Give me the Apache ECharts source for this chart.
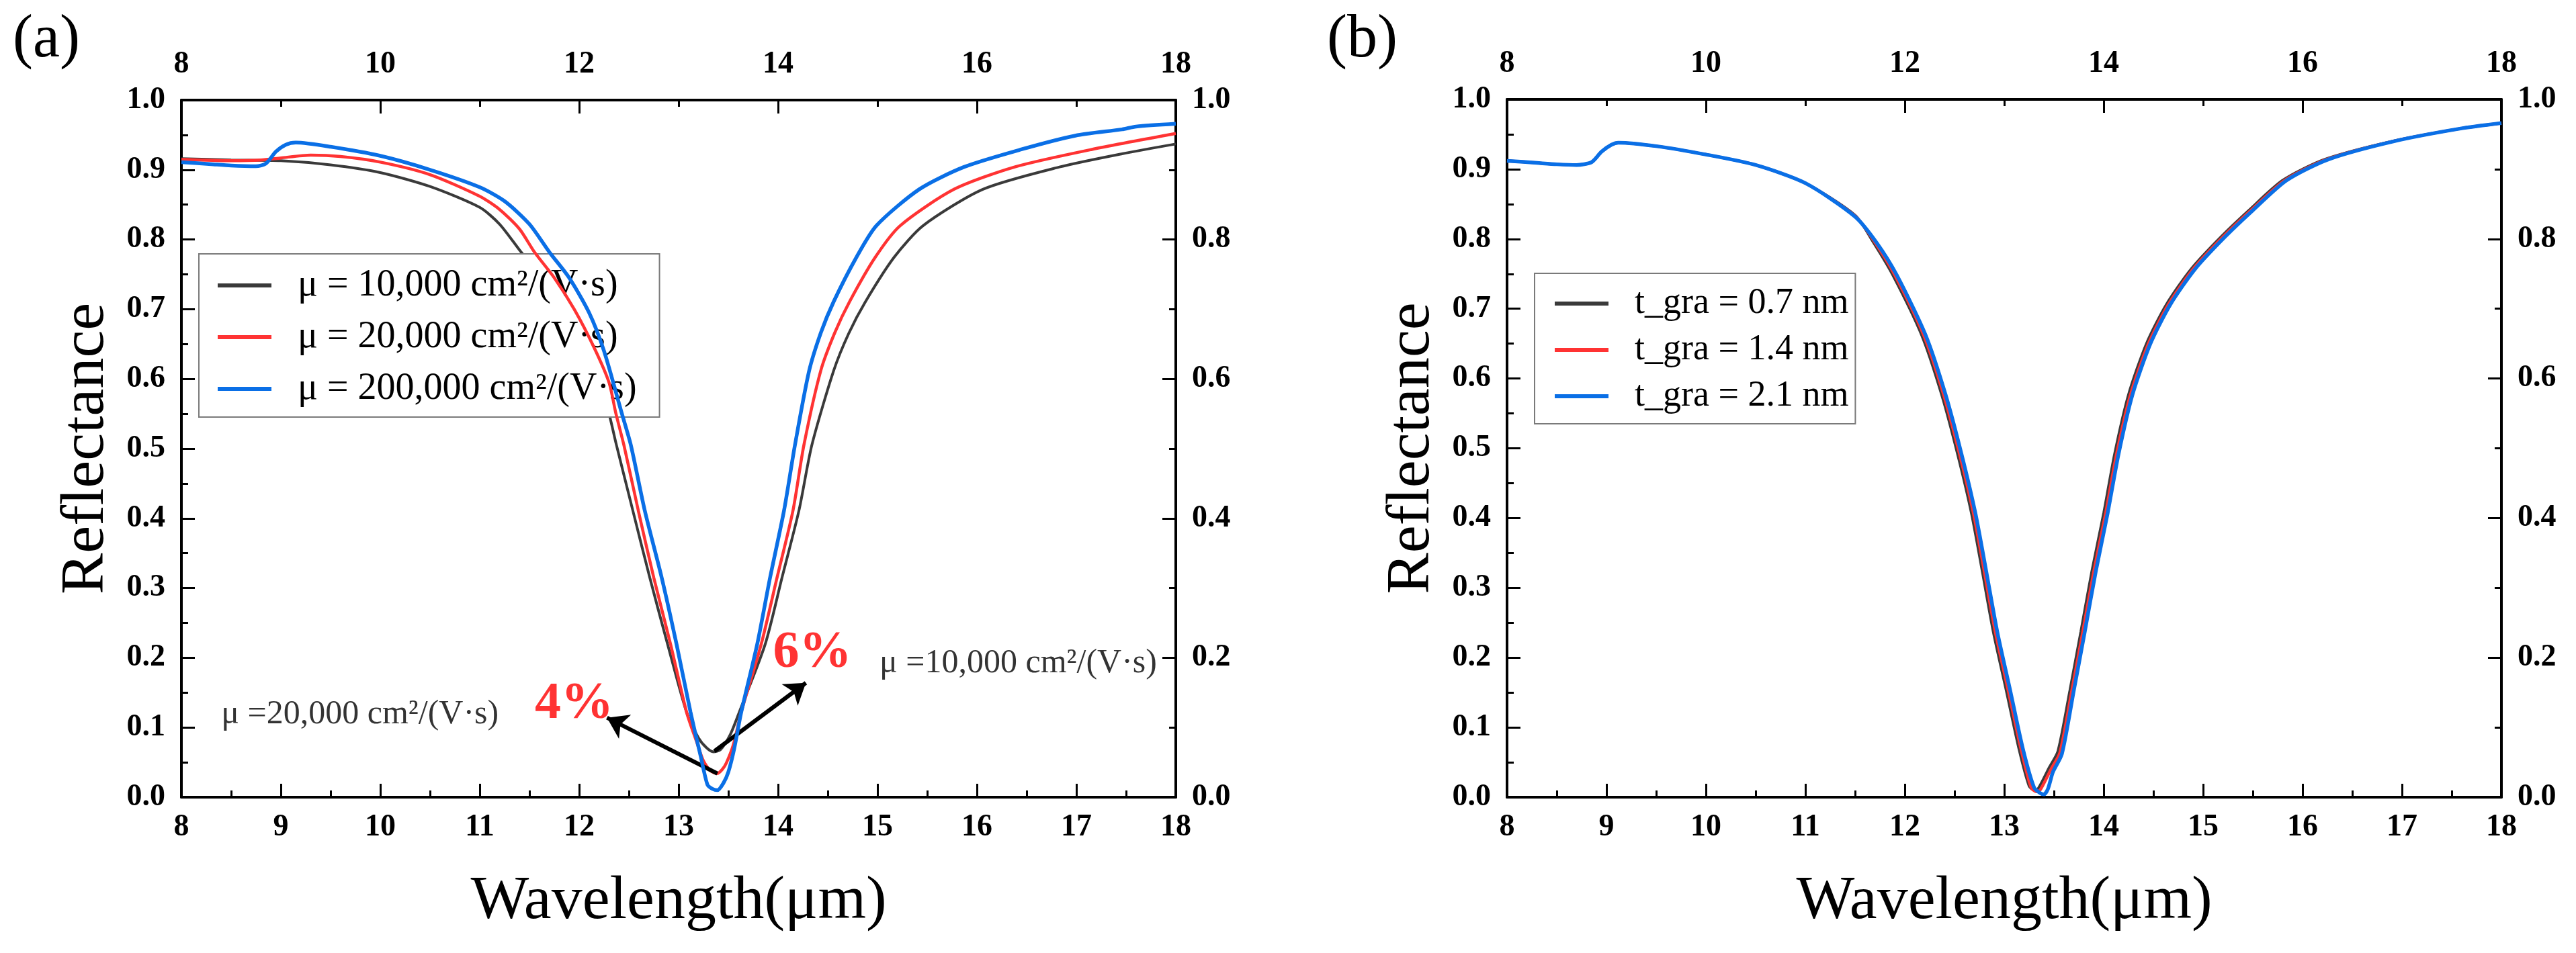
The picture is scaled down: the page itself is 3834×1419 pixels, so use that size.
<!DOCTYPE html>
<html>
<head>
<meta charset="utf-8">
<script src="https://cdn.jsdelivr.net/npm/echarts@6/dist/echarts.min.js"></script>
<style>
  html, body { margin: 0; padding: 0; background: #fff; }
  #chart { width: 3834px; height: 1419px; }
</style>
</head>
<body>
<div id="chart"></div>
<script>
// Panel (a): reflectance vs wavelength for three mobilities  [wavelength um, R]
const mu10k = [
    [8.0, 0.916], [8.5, 0.914], [9.0, 0.913], [9.5, 0.907], [10.0, 0.896], [10.5, 0.876],
    [11.0, 0.846], [11.2, 0.822], [11.4, 0.785], [11.6, 0.749], [11.8, 0.705], [12.0, 0.650],
    [12.2, 0.592], [12.3, 0.550], [12.37, 0.508], [12.54, 0.411], [12.71, 0.315], [12.89, 0.219],
    [13.08, 0.122], [13.20, 0.085], [13.28, 0.071], [13.35, 0.065], [13.42, 0.068], [13.52, 0.090],
    [13.61, 0.122], [13.87, 0.219], [14.04, 0.315], [14.21, 0.411], [14.34, 0.505], [14.56, 0.612],
    [14.71, 0.665], [14.88, 0.711], [15.17, 0.775], [15.46, 0.820], [16.06, 0.872], [16.83, 0.904],
    [17.46, 0.923], [18.0, 0.937]
];
const mu20k = [
    [8.0, 0.915], [8.5, 0.913], [8.8, 0.914], [9.0, 0.917], [9.3, 0.921], [9.6, 0.919],
    [10.0, 0.911], [10.5, 0.893], [11.0, 0.862], [11.2, 0.843], [11.4, 0.815], [11.55, 0.782],
    [11.75, 0.745], [11.95, 0.700], [12.15, 0.645], [12.30, 0.595], [12.37, 0.550], [12.45, 0.505],
    [12.595, 0.411], [12.75, 0.315], [12.92, 0.219], [13.08, 0.122], [13.18, 0.080], [13.25, 0.052],
    [13.32, 0.038], [13.39, 0.034], [13.44, 0.040], [13.48, 0.049], [13.55, 0.075], [13.63, 0.122],
    [13.83, 0.219], [13.99, 0.315], [14.15, 0.411], [14.26, 0.505], [14.43, 0.612], [14.57, 0.666],
    [14.72, 0.711], [14.98, 0.775], [15.23, 0.820], [15.77, 0.872], [16.38, 0.904], [17.15, 0.929],
    [18.0, 0.952]
];
const mu200k = [
    [8.0, 0.911], [8.3, 0.908], [8.5, 0.906], [8.75, 0.905], [8.85, 0.909], [8.95, 0.926],
    [9.05, 0.936], [9.15, 0.939], [9.5, 0.933], [10.0, 0.920], [10.5, 0.900], [11.0, 0.875],
    [11.25, 0.855], [11.5, 0.822], [11.70, 0.782], [11.90, 0.745], [12.10, 0.695], [12.25, 0.640],
    [12.43, 0.550], [12.52, 0.505], [12.66, 0.411], [12.83, 0.315], [12.98, 0.219], [13.12, 0.122],
    [13.22, 0.060], [13.29, 0.018], [13.34, 0.012], [13.39, 0.010], [13.45, 0.020], [13.50, 0.036],
    [13.56, 0.070], [13.63, 0.122], [13.79, 0.219], [13.92, 0.315], [14.06, 0.411], [14.17, 0.505],
    [14.31, 0.610], [14.43, 0.666], [14.56, 0.711], [14.79, 0.775], [14.99, 0.820], [15.42, 0.872],
    [15.87, 0.904], [16.44, 0.929], [16.99, 0.949], [17.46, 0.958], [17.6, 0.962], [18.0, 0.966]
];

// Panel (b): reflectance for three graphene thicknesses
const tgra07 = [
    [8.0, 0.912], [8.3, 0.909], [8.5, 0.907], [8.7, 0.906], [8.85, 0.910], [8.95, 0.925],
    [9.05, 0.935], [9.12, 0.938], [9.5, 0.933], [10.0, 0.921], [10.5, 0.906], [11.0, 0.880],
    [11.5, 0.834], [11.68, 0.796], [11.88, 0.748], [12.17, 0.662], [12.37, 0.577], [12.53, 0.492],
    [12.67, 0.407], [12.78, 0.323], [12.89, 0.237], [13.02, 0.153], [13.15, 0.068], [13.25, 0.016],
    [13.30, 0.010], [13.34, 0.012], [13.45, 0.042], [13.54, 0.066], [13.66, 0.153], [13.77, 0.237],
    [13.88, 0.323], [14.00, 0.407], [14.11, 0.492], [14.25, 0.577], [14.43, 0.650], [14.63, 0.706],
    [14.88, 0.757], [15.18, 0.803], [15.46, 0.841], [15.80, 0.884], [16.22, 0.914], [16.90, 0.940],
    [17.58, 0.958], [18.0, 0.966]
];
const tgra14 = [
    [8.0, 0.912], [8.3, 0.909], [8.5, 0.907], [8.7, 0.906], [8.85, 0.910], [8.95, 0.925],
    [9.05, 0.935], [9.12, 0.938], [9.5, 0.933], [10.0, 0.921], [10.5, 0.906], [11.0, 0.880],
    [11.5, 0.833], [11.70, 0.795], [11.90, 0.748], [12.19, 0.662], [12.39, 0.577], [12.55, 0.492],
    [12.69, 0.407], [12.80, 0.323], [12.91, 0.237], [13.04, 0.153], [13.17, 0.068], [13.27, 0.014],
    [13.32, 0.008], [13.36, 0.010], [13.47, 0.040], [13.56, 0.064], [13.68, 0.153], [13.79, 0.237],
    [13.90, 0.323], [14.02, 0.407], [14.13, 0.492], [14.27, 0.577], [14.45, 0.650], [14.65, 0.706],
    [14.90, 0.757], [15.20, 0.803], [15.48, 0.841], [15.82, 0.884], [16.24, 0.914], [16.91, 0.940],
    [17.58, 0.958], [18.0, 0.966]
];
const tgra21 = [
    [8.0, 0.912], [8.3, 0.909], [8.5, 0.907], [8.7, 0.906], [8.85, 0.910], [8.95, 0.925],
    [9.05, 0.935], [9.12, 0.938], [9.5, 0.933], [10.0, 0.921], [10.5, 0.906], [11.0, 0.880],
    [11.5, 0.832], [11.72, 0.794], [11.92, 0.748], [12.21, 0.662], [12.41, 0.577], [12.57, 0.492],
    [12.71, 0.407], [12.82, 0.323], [12.93, 0.237], [13.06, 0.153], [13.19, 0.068], [13.30, 0.014],
    [13.36, 0.006], [13.40, 0.004], [13.44, 0.012], [13.49, 0.036], [13.58, 0.062], [13.70, 0.153],
    [13.81, 0.237], [13.92, 0.323], [14.04, 0.407], [14.15, 0.492], [14.29, 0.577], [14.47, 0.650],
    [14.67, 0.706], [14.92, 0.757], [15.22, 0.803], [15.50, 0.841], [15.84, 0.884], [16.26, 0.914],
    [16.92, 0.940], [17.58, 0.958], [18.0, 0.966]
];

const namesA = ['μ = 10,000 cm²/(V·s)', 'μ = 20,000 cm²/(V·s)', 'μ = 200,000 cm²/(V·s)'];
const namesB = ['t_gra = 0.7 nm', 't_gra = 1.4 nm', 't_gra = 2.1 nm'];

// annotations in panel (a), data coordinates
const noteTexts = ['μ =20,000 cm²/(V·s)', 'μ =10,000 cm²/(V·s)'];
const notePos = [[8.40, 0.119], [15.02, 0.192]];
const pctTexts = ['4%', '6%'];
const pctPos = [[11.95, 0.133], [14.345, 0.206]];
const arrowFrom = [[13.39, 0.034], [13.36, 0.066]];
const arrowTo = [[12.28, 0.114], [14.28, 0.164]];

const FONT = 'Liberation Serif';
const COLORS = ['#3a3a3a', '#ff3333', '#0a6fe6'];
const WIDTHS = [4, 4.5, 5.5];

function xAxisCfg(gridIndex, position, interval) {
    return {
        type: 'value',
        gridIndex: gridIndex,
        position: position,
        min: 8,
        max: 18,
        interval: interval,
        axisLine: {onZero: false, lineStyle: {color: '#000', width: 4}},
        axisTick: {inside: true, length: 20, lineStyle: {color: '#000', width: 3}},
        minorTick: {show: true, splitNumber: 2, length: 10, lineStyle: {color: '#000', width: 3}},
        splitLine: {show: false},
        axisLabel: {
            fontFamily: FONT, fontWeight: 'bold', fontSize: 46, color: '#000',
            margin: position === 'top' ? 30 : 22
        },
        name: position === 'bottom' ? 'Wavelength(μm)' : '',
        nameLocation: 'middle',
        nameGap: 110,
        nameTextStyle: {fontFamily: FONT, fontSize: 92, color: '#000'}
    };
}

function yAxisCfg(gridIndex, position, interval) {
    return {
        type: 'value',
        gridIndex: gridIndex,
        position: position,
        min: 0,
        max: 1,
        interval: interval,
        axisLine: {onZero: false, lineStyle: {color: '#000', width: 4}},
        axisTick: {inside: true, length: 20, lineStyle: {color: '#000', width: 3}},
        minorTick: {show: true, splitNumber: 2, length: 10, lineStyle: {color: '#000', width: 3}},
        splitLine: {show: false},
        axisLabel: {
            fontFamily: FONT, fontWeight: 'bold', fontSize: 46, color: '#000', margin: 24,
            formatter: v => v.toFixed(1)
        },
        name: position === 'left' ? 'Reflectance' : '',
        nameLocation: 'middle',
        nameGap: 95,
        nameTextStyle: {fontFamily: FONT, fontSize: 92, color: '#000'}
    };
}

function curve(name, data, i, axisIdx) {
    return {
        name: name,
        type: 'line',
        xAxisIndex: axisIdx,
        yAxisIndex: axisIdx,
        data: data,
        showSymbol: false,
        smooth: 0.25,
        lineStyle: {color: COLORS[i], width: WIDTHS[i]},
        itemStyle: {color: COLORS[i]},
        z: 3 + i
    };
}

function legendCfg(names, left, top, fontSize, gap, pad) {
    return {
        data: names,
        orient: 'vertical',
        left: left,
        top: top,
        icon: 'rect',
        itemWidth: 80,
        itemHeight: 6,
        itemGap: gap,
        selectedMode: false,
        padding: pad,
        borderColor: '#7a7a7a',
        borderWidth: 2,
        backgroundColor: '#fff',
        textStyle: {fontFamily: FONT, fontSize: fontSize, color: '#000', padding: [0, 0, 0, 34]}
    };
}

const chart = echarts.init(document.getElementById('chart'));

const option = {
    animation: false,
    backgroundColor: '#fff',
    title: [
        {text: '(a)', left: 14, top: 10, textStyle: {fontFamily: FONT, fontSize: 90, fontWeight: 'normal', color: '#000'}},
        {text: '(b)', left: 1970, top: 10, textStyle: {fontFamily: FONT, fontSize: 90, fontWeight: 'normal', color: '#000'}}
    ],
    grid: [
        {left: 270, top: 149, width: 1480, height: 1038},
        {left: 2243, top: 148, width: 1480, height: 1039}
    ],
    xAxis: [
        xAxisCfg(0, 'bottom', 1),
        xAxisCfg(0, 'top', 2),
        xAxisCfg(1, 'bottom', 1),
        xAxisCfg(1, 'top', 2)
    ],
    yAxis: [
        yAxisCfg(0, 'left', 0.1),
        yAxisCfg(0, 'right', 0.2),
        yAxisCfg(1, 'left', 0.1),
        yAxisCfg(1, 'right', 0.2)
    ],
    legend: [
        legendCfg(namesA, 296, 378, 56, 21, [19, 34, 14, 28]),
        legendCfg(namesB, 2284, 407, 54, 15, [18, 10, 14, 30])
    ],
    series: [
        curve(namesA[0], mu10k, 0, 0),
        curve(namesA[1], mu20k, 1, 0),
        curve(namesA[2], mu200k, 2, 0),
        curve(namesB[0], tgra07, 0, 2),
        curve(namesB[1], tgra14, 1, 2),
        curve(namesB[2], tgra21, 2, 2),
        {
            // mobility notes + arrows
            type: 'scatter',
            xAxisIndex: 0,
            yAxisIndex: 0,
            symbolSize: 0,
            silent: true,
            z: 10,
            data: noteTexts.map((t, i) => ({name: t, value: notePos[i]})),
            label: {
                show: true, position: 'right', distance: 0,
                formatter: p => p.name,
                fontFamily: FONT, fontSize: 50, color: '#000'
            },
            markLine: {
                silent: true,
                symbol: ['none', 'arrow'],
                symbolSize: 30,
                label: {show: false},
                lineStyle: {color: '#000', width: 6, type: 'solid'},
                emphasis: {disabled: true},
                data: arrowFrom.map((f, i) => [{coord: f}, {coord: arrowTo[i]}])
            }
        },
        {
            type: 'scatter',
            xAxisIndex: 0,
            yAxisIndex: 0,
            symbolSize: 0,
            silent: true,
            z: 10,
            data: pctTexts.map((t, i) => ({name: t, value: pctPos[i]})),
            label: {
                show: true, position: 'inside',
                formatter: p => p.name,
                fontFamily: FONT, fontSize: 78, fontWeight: 'bold', color: '#ff0000'
            }
        }
    ]
};

chart.setOption(option);
</script>
</body>
</html>
